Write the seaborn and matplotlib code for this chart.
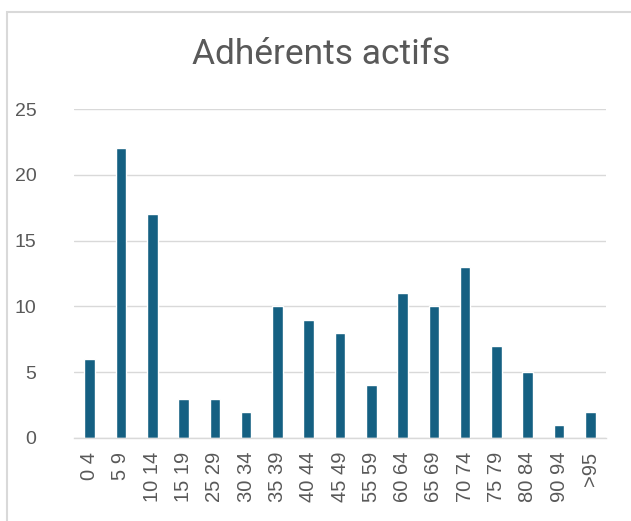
import matplotlib
matplotlib.use("Agg")
import matplotlib.pyplot as plt
import matplotlib.patches as mpatches
import pandas as pd
import seaborn as sns

# Age groups and counts of active members
age_groups = ["0 4", "5 9", "10 14", "15 19", "25 29", "30 34", "35 39", "40 44",
              "45 49", "55 59", "60 64", "65 69", "70 74", "75 79", "80 84",
              "90 94", ">95"]
members = [6, 22, 17, 3, 3, 2, 10, 9, 8, 4, 11, 10, 13, 7, 5, 1, 2]
y_ticks = [0, 5, 10, 15, 20, 25]

df = pd.DataFrame({"age": age_groups, "count": members})

sns.set_style("white")
plt.rcParams['font.family'] = ['Liberation Sans', 'DejaVu Sans']

fig = plt.figure(figsize=(6.31, 5.21), dpi=100)
ax = fig.add_axes([74 / 631, 1 - 438 / 521, (606 - 74) / 631, (438 - 109) / 521])

sns.barplot(data=df, x="age", y="count", color="#156082", width=0.34,
            saturation=1, ax=ax)

ax.set_ylim(0, 25)
ax.set_yticks(y_ticks)
ax.yaxis.grid(True, color="#D9D9D9", linewidth=1)
ax.set_axisbelow(True)
for s in ["top", "right", "left"]:
    ax.spines[s].set_visible(False)
ax.spines["bottom"].set_color("#D9D9D9")
ax.spines["bottom"].set_linewidth(1)
ax.tick_params(axis="both", length=0, colors="#595959", labelsize=14)
ax.tick_params(axis="x", labelsize=14.5)
ax.tick_params(axis="y", pad=27)
ax.tick_params(axis="x", pad=10)
plt.setp(ax.get_xticklabels(), rotation=90)
ax.set_xlabel("")
ax.set_ylabel("")

fig.text(321 / 631, 1 - 55 / 521, "Adhérents actifs", ha="center", va="center",
         fontsize=25.5, color="#595959", family=["Roboto", "DejaVu Sans"])

# chart frame
fig.add_artist(mpatches.Rectangle((7 / 631, -0.1), 1.2, 1.1 - 12 / 521,
                                  transform=fig.transFigure, fill=False,
                                  edgecolor="#D9D9D9", linewidth=1.5))

fig.savefig("out.png", dpi=100)
